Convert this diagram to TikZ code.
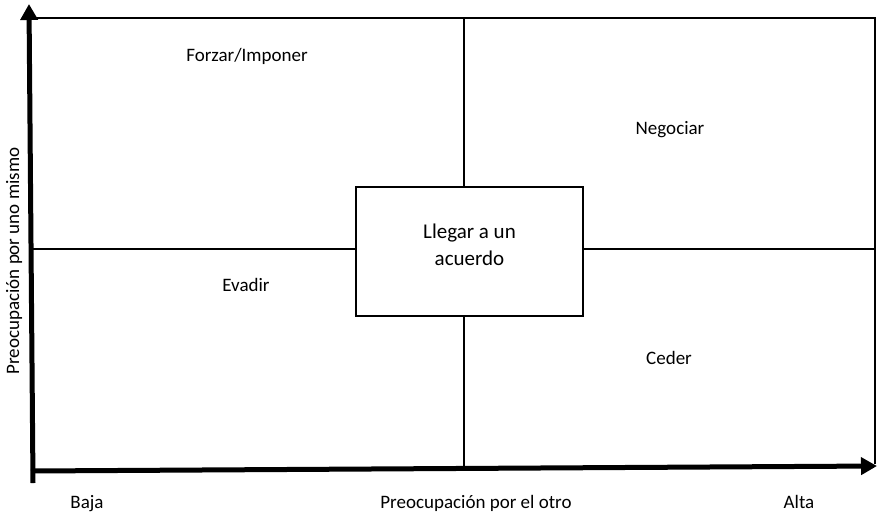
\documentclass[tikz,border=0pt]{standalone}
\usepackage{fontspec}
\setmainfont{Carlito}
\usetikzlibrary{arrows.meta}
\begin{document}
\begin{tikzpicture}[x=1pt,y=-1pt,
  thinline/.style={line width=1.2pt},
  axisline/.style={line width=5pt,-{Triangle[length=16pt,width=17pt]}},
  lbl/.style={font=\fontsize{19}{23}\selectfont, inner sep=0pt, anchor=base},
  boxtxt/.style={font=\fontsize{21}{27}\selectfont, align=center, inner sep=0pt}]
\useasboundingbox (0,0) rectangle (877,515);
% coordinates
\coordinate (ybot) at (33,483);
\coordinate (ytop) at (29,4);
\coordinate (xstart) at (31,471);
\coordinate (xend) at (877,466);
\coordinate (tl) at (29,18);
\coordinate (br) at (875,464);
\coordinate (ml) at (29,249);
\coordinate (mr) at (875,249);
\coordinate (mt) at (464,18);
\coordinate (mb) at (464,468);
% frame and dividers
\draw[thinline] (tl) -| (br);
\draw[thinline] (ml) -- (mr);
\draw[thinline] (mt) -- (mb);
% center box
\node[draw, thinline, fill=white, minimum width=227pt, minimum height=129pt, inner sep=0pt] (box) at (469.5,251.5) {};
\node[boxtxt] (boxlabel) at (469.5,245) {Llegar a un\\acuerdo};
% axes
\draw[axisline] (ybot) -- (ytop);
\draw[axisline] (xstart) -- (xend);
% quadrant labels
\node[lbl] (forzar) at (247,61.5) {Forzar/Imponer};
\node[lbl] (negociar) at (670,134) {Negociar};
\node[lbl] (evadir) at (246,291.5) {Evadir};
\node[lbl] (ceder) at (669,364.5) {Ceder};
% axis labels
\node[lbl] (baja) at (87,508) {Baja};
\node[lbl] (xlabel) at (476,508) {Preocupación por el otro};
\node[lbl] (alta) at (799,508) {Alta};
\node[font=\fontsize{19}{23}\selectfont, inner sep=0pt, rotate=90] (ylabel) at (14,261) {Preocupación por uno mismo};
\end{tikzpicture}
\end{document}
